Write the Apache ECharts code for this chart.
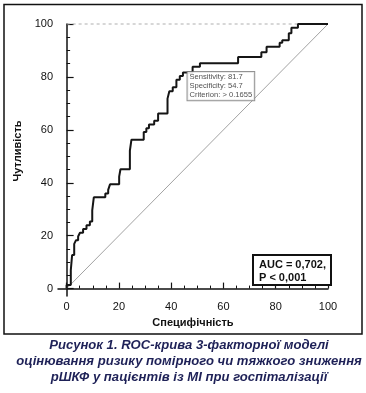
<!DOCTYPE html>
<html><head><meta charset="utf-8">
<script src="https://cdn.jsdelivr.net/npm/echarts@6/dist/echarts.min.js"></script>
<style>html,body{margin:0;padding:0;background:#fff}#c{width:366px;height:393px}</style>
</head><body><div id="c"></div>
<script>
// ROC curve corner points (100 - specificity, sensitivity), drawn with step:'start'
const rocX = [0,1.6,2.1,2.9,3.6,4.4,5.1,6.3,7.6,8.9,9.8,10.4,14.8,15.9,16.6,20.1,20.6,24.2,24.8,29.5,30.5,31.5,33.5,35.0,38.6,39.3,40.6,42.0,43.3,44.5,48.2,51.0,65.6,74.5,76.5,81.5,82.5,85.0,86.0,88.5,100];
const rocY = [0,1.4,7.0,12.7,16.9,18.3,19.7,21.1,22.5,23.9,25.4,29.6,34.5,35.9,37.3,39.4,42.3,45.1,52.1,56.3,59.2,60.6,62.0,63.4,66.2,71.8,74.6,76.1,78.9,80.3,81.7,83.8,85.2,87.5,89.3,91.4,92.9,93.9,96.5,98.6,100];
const diagX = [0,100];
const diagY = [0,100];
const topX = [0,103];
const topY = [100,100];
const criterion = [45.3, 81.7];
const critLines = ['Sensitivity: 81.7','Specificity: 54.7','Criterion: > 0.1655'];
const majorTicks = [0,20,40,60,80,100];
const minorTicks = [5,10,15,25,30,35,45,50,55,65,70,75,85,90,95];
const xName = 'Специфічність';
const yName = 'Чутливість';
const aucLines = ['AUC = 0,702,','P < 0,001'];
const caption = ['Рисунок 1. ROC-крива 3-факторної моделі','оцінювання ризику помірного чи тяжкого зниження','рШКФ у пацієнтів із МІ при госпіталізації'];

const X_MIN = -3.3, Y_MIN = -2.8;
const FONT = 'Liberation Sans, Arial, sans-serif';
const pairs = (a,b)=>a.map((v,i)=>[v,b[i]]);

const chart = echarts.init(document.getElementById('c'), null, {renderer:'canvas'});
const baseAxis = (min)=>({type:'value', min:min, max:100, splitLine:{show:false}});
chart.setOption({
  animation:false,
  backgroundColor:'#fff',
  title:{text:caption.join('\n'), left:184, top:332, textAlign:'center',
    textStyle:{fontFamily:FONT, fontSize:13.1, fontWeight:'bold', fontStyle:'italic', color:'#1e2157', lineHeight:16}},
  grid:{left:58, right:38, top:24, bottom:97},
  xAxis:[
    Object.assign(baseAxis(X_MIN), {position:'bottom', name:xName, nameLocation:'middle', nameGap:21,
      nameTextStyle:{fontFamily:FONT, fontSize:11, fontWeight:'bold', color:'#111'},
      axisLine:{show:true, lineStyle:{color:'#111', width:1.5}},
      axisTick:{show:true, inside:true, length:6, customValues:majorTicks, lineStyle:{color:'#111', width:1.2}},
      axisLabel:{customValues:majorTicks, margin:5, fontFamily:FONT, fontSize:11, color:'#111'}}),
    Object.assign(baseAxis(X_MIN), {position:'bottom', axisLine:{show:false},
      axisTick:{show:true, inside:true, length:3, customValues:minorTicks, lineStyle:{color:'#111', width:1}},
      axisLabel:{show:false}})
  ],
  yAxis:[
    Object.assign(baseAxis(Y_MIN), {position:'left', name:yName, nameLocation:'middle', nameGap:30,
      nameTextStyle:{fontFamily:FONT, fontSize:11, fontWeight:'bold', color:'#111', padding:[0,0,0,18]},
      axisLine:{show:true, lineStyle:{color:'#111', width:1.5}},
      axisTick:{show:true, inside:true, length:7, customValues:majorTicks, lineStyle:{color:'#111', width:1.2}},
      axisLabel:{customValues:majorTicks, margin:5, fontFamily:FONT, fontSize:11, color:'#111'}}),
    Object.assign(baseAxis(Y_MIN), {position:'left', offset:0, axisLine:{show:false},
      axisTick:{show:true, inside:true, length:3.5, customValues:minorTicks, lineStyle:{color:'#111', width:1}},
      axisLabel:{show:false}})
  ],
  series:[
    {type:'line', data:pairs(diagX,diagY), symbol:'none', lineStyle:{color:'#8a8a8a', width:0.8}, z:1},
    {type:'line', data:pairs(topX,topY), symbol:'none', clip:false, lineStyle:{color:'#b0b0b0', width:1, type:[3,3]}, z:1},
    {type:'line', data:pairs(rocX,rocY), step:'start', symbol:'none', lineStyle:{color:'#151515', width:2}, z:3},
    {type:'scatter', data:[criterion], symbolSize:1, itemStyle:{color:'rgba(0,0,0,0)'}, z:5,
      label:{show:true, position:[3,0], formatter:critLines.join('\n'), align:'left', verticalAlign:'top',
        fontFamily:FONT, fontSize:7.6, lineHeight:8.8, color:'#222', backgroundColor:'#fff',
        borderColor:'#777', borderWidth:1, padding:[1,2,1,2]}}
  ],
  graphic:[
    {type:'rect', shape:{x:4, y:4.5, width:358, height:329.5}, style:{fill:null, stroke:'#111', lineWidth:1.5}, z:10},
    {type:'rect', shape:{x:253, y:255, width:78, height:30}, style:{fill:'#fff', stroke:'#111', lineWidth:2}, z:10},
    {type:'text', x:259, y:258, style:{text:aucLines.join('\n'), fontFamily:FONT, fontSize:11, fontWeight:'bold', fill:'#111', lineHeight:13.5}, z:11}
  ]
});
</script></body></html>
